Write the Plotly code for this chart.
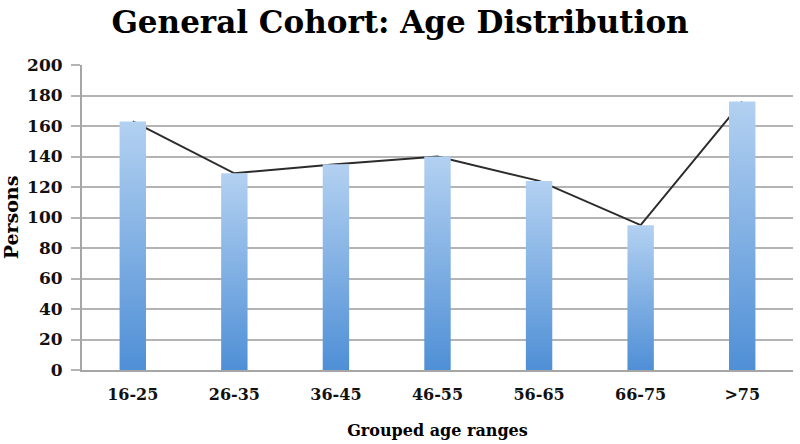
import plotly.graph_objects as go

categories = ["16-25", "26-35", "36-45", "46-55", "56-65", "66-75", ">75"]
persons = [163, 129, 135, 140, 124, 95, 176]
y_ticks = [0, 20, 40, 60, 80, 100, 120, 140, 160, 180, 200]

BAR_HALF = 0.13
FONT = "DejaVu Serif"
idx = list(range(len(categories)))

fig = go.Figure()

# connecting line (drawn first so bars sit on top)
fig.add_trace(go.Scatter(
    x=idx, y=persons, mode="lines",
    line=dict(color="#2b2b2b", width=2),
    hoverinfo="skip", showlegend=False,
))

# bars with vertical gradient (each bar its own filled shape)
for i, v in enumerate(persons):
    fig.add_trace(go.Scatter(
        x=[i - BAR_HALF, i + BAR_HALF, i + BAR_HALF, i - BAR_HALF, i - BAR_HALF],
        y=[0, 0, v, v, 0],
        mode="lines", line=dict(width=0),
        fill="toself",
        fillgradient=dict(type="vertical",
                          colorscale=[[0, "#4f8fd6"], [1, "#b3d1f1"]]),
        name=categories[i], showlegend=False,
        hovertemplate=f"{categories[i]}: {v}<extra></extra>",
    ))

fig.update_layout(
    width=800, height=444,
    margin=dict(l=82, r=7, t=65, b=71),
    paper_bgcolor="white", plot_bgcolor="white",
    title=dict(text="<b>General Cohort: Age Distribution</b>",
               x=0.5, xanchor="center", y=0.95, yanchor="middle",
               font=dict(family=FONT, size=31, color="#000000")),
    font=dict(family=FONT, color="#111111"),
)

fig.update_xaxes(
    range=[-0.5, len(categories) - 0.5],
    tickmode="array", tickvals=idx,
    ticktext=[f"<b>{c}</b>" for c in categories],
    tickfont=dict(family=FONT, size=16, color="#111111"),
    showgrid=False, zeroline=False,
    showline=True, linecolor="#a6a6a6", linewidth=2,
    ticks="", ticklabelstandoff=9,
    title=dict(text="<b>Grouped age ranges</b>",
               font=dict(family=FONT, size=16, color="#000000"), standoff=22),
)

fig.update_yaxes(
    range=[0, 200],
    tickmode="array", tickvals=y_ticks,
    ticktext=[f"<b>{t}</b>" for t in y_ticks],
    tickfont=dict(family=FONT, size=17, color="#111111"),
    showgrid=True, gridcolor="#b4b4b4", gridwidth=2,
    zeroline=False,
    showline=True, linecolor="#a6a6a6", linewidth=2,
    ticks="outside", ticklen=9, tickcolor="#b4b4b4", tickwidth=2,
    ticklabelstandoff=5,
    title=dict(text="<b>Persons</b>",
               font=dict(family=FONT, size=19, color="#000000"), standoff=5),
)

fig.write_html("out.html", config={"displayModeBar": False},
               post_script="document.body.style.margin='0';")
